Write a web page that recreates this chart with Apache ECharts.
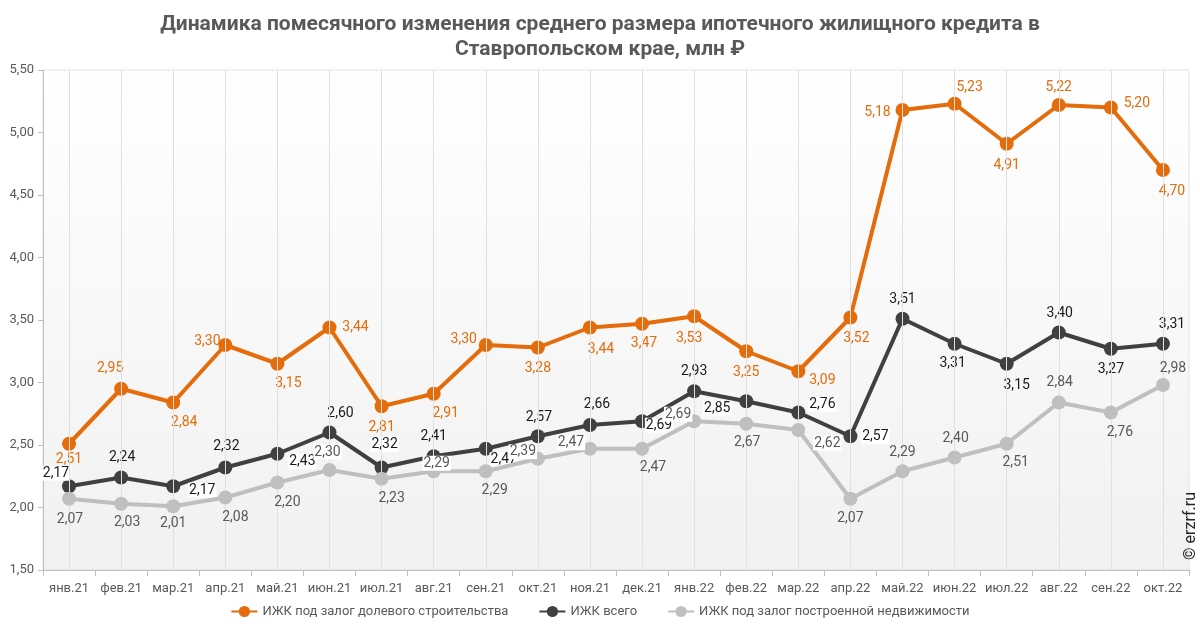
<!DOCTYPE html>
<html><head><meta charset="utf-8">
<script src="https://cdn.jsdelivr.net/npm/echarts@6/dist/echarts.min.js"></script>
<style>html,body{margin:0;padding:0;background:#fff}#c{width:1200px;height:629px}</style>
</head><body><div id="c"></div>
<script>
const categories = ['янв.21','фев.21','мар.21','апр.21','май.21','июн.21','июл.21','авг.21','сен.21','окт.21','ноя.21','дек.21','янв.22','фев.22','мар.22','апр.22','май.22','июн.22','июл.22','авг.22','сен.22','окт.22'];
const seriesNames = ['ИЖК под залог долевого строительства','ИЖК всего','ИЖК под залог построенной недвижимости'];
const shareValues = [2.51,2.95,2.84,3.30,3.15,3.44,2.81,2.91,3.30,3.28,3.44,3.47,3.53,3.25,3.09,3.52,5.18,5.23,4.91,5.22,5.20,4.70];
const totalValues = [2.17,2.24,2.17,2.32,2.43,2.60,2.32,2.41,2.47,2.57,2.66,2.69,2.93,2.85,2.76,2.57,3.51,3.31,3.15,3.40,3.27,3.31];
const builtValues = [2.07,2.03,2.01,2.08,2.20,2.30,2.23,2.29,2.29,2.39,2.47,2.47,2.69,2.67,2.62,2.07,2.29,2.40,2.51,2.84,2.76,2.98];
const yTicks = {min:1.5, max:5.5, interval:0.5};

// label layout (offsets from point, white box flag)
const shareOff = [[0,16],[-11,-20],[11,20],[-18,-4],[11,20],[26,0],[0,21],[12,20],[-22,-6],[0,21],[11,22],[2,20],[-5,22],[0,21],[24,9],[6,21],[-25,2],[15,-16],[0,22],[0,-18],[26,-4],[9,21]];
const totalOff = [[-13,-13],[1,-20],[29,4],[1,-21],[25,8],[11,-19],[3,-23],[0,-20],[18,11],[1,-19],[7,-21],[17,4],[0,-20],[-29,7],[24,-8],[25,0],[0,-19],[-2,20],[10,22],[1,-19],[0,21],[9,-19]];
const builtOff = [[1,21],[6,19],[0,17],[10,20],[10,20],[-2,-18],[10,20],[3,-8],[9,19],[-15,-7],[-19,-6],[11,19],[-16,-7],[1,19],[29,13],[0,20],[0,-19],[1,-19],[9,19],[1,-20],[9,20],[10,-17]];
const totalBox = [1,0,1,0,1,0,1,0,1,0,0,1,0,1,1,1,0,0,0,0,0,0];
const builtBox = [0,0,0,0,0,1,0,1,0,1,1,0,1,0,1,0,0,0,0,0,0,0];

const fmt = v => v.toFixed(2).replace('.', ',');
function mkData(vals, offs, boxes, color){
  return vals.map((v,i)=>({
    value: v,
    label: {
      show: true, position: 'inside', offset: offs[i],
      formatter: fmt(v), color: color, fontSize: 14, fontFamily: 'Roboto',
      backgroundColor: boxes && boxes[i] ? '#ffffff' : 'transparent',
      padding: [1,1,0,1]
    }
  }));
}

const chart = echarts.init(document.getElementById('c'), null, {renderer:'canvas'});
const colors = ['#E46C0A','#404040','#BFBFBF'];
const lineSeries = (name, vals, offs, boxes, color, labelColor, z) => ({
  name, type:'line', data: mkData(vals, offs, boxes, labelColor),
  symbol:'circle', symbolSize: 14, z: z,
  lineStyle:{width:4, color}, itemStyle:{color},
  emphasis:{disabled:true}
});
chart.setOption({
  animation:false,
  backgroundColor:'#ffffff',
  title:{
    text:'Динамика помесячного изменения среднего размера ипотечного жилищного кредита в\nСтавропольском крае, млн ₽',
    left:'center', top:7,
    textStyle:{fontFamily:'Roboto', fontWeight:'bold', fontSize:21, color:'#595959', lineHeight:25}
  },
  legend:{
    data: seriesNames, bottom:6, left:'center', itemGap:30, itemWidth:26, itemHeight:14,
    textStyle:{fontFamily:'Roboto', fontSize:13, color:'#595959'}
  },
  grid:{left:43, right:11, top:70, bottom:59, show:true, borderColor:'#e3e3e3', borderWidth:1,
    backgroundColor:{type:'linear', x:0, y:0, x2:0, y2:1, colorStops:[{offset:0,color:'#ffffff'},{offset:1,color:'#f1f1f1'}]}},
  xAxis:{
    type:'category', data: categories, boundaryGap:true,
    axisLine:{lineStyle:{color:'#bfbfbf', width:1}},
    axisTick:{show:true, length:6, lineStyle:{color:'#bfbfbf'}},
    axisLabel:{color:'#595959', fontFamily:'Roboto', fontSize:13, margin:12, interval:0},
    splitLine:{show:false}
  },
  yAxis:{
    type:'value', min:yTicks.min, max:yTicks.max, interval:yTicks.interval,
    axisLine:{show:true, lineStyle:{color:'#bfbfbf'}},
    axisTick:{show:true, length:5, lineStyle:{color:'#bfbfbf'}},
    axisLabel:{color:'#595959', fontFamily:'Roboto', fontSize:13, margin:9, formatter: v => fmt(v)},
    splitLine:{show:false}
  },
  graphic:[{
    type:'text', x:1191, y:526, rotation: Math.PI/2, z:100,
    style:{text:'© erzrf.ru', fontFamily:'Roboto', fontSize:16, fill:'#262626', align:'center', verticalAlign:'middle'}
  }],
  series:[
    {
      name:'grid', type:'line', data:[], silent:true, z:1,
      markLine:{silent:true, symbol:'none', label:{show:false}, animation:false,
        lineStyle:{color:'#e0e0e0', width:1, type:'solid'},
        data: categories.map(c=>({xAxis:c}))}
    },
    lineSeries(seriesNames[0], shareValues, shareOff, null, colors[0], '#E46C0A', 3),
    lineSeries(seriesNames[1], totalValues, totalOff, totalBox, colors[1], '#1a1a1a', 4),
    lineSeries(seriesNames[2], builtValues, builtOff, builtBox, colors[2], '#595959', 5)
  ]
});
</script></body></html>
